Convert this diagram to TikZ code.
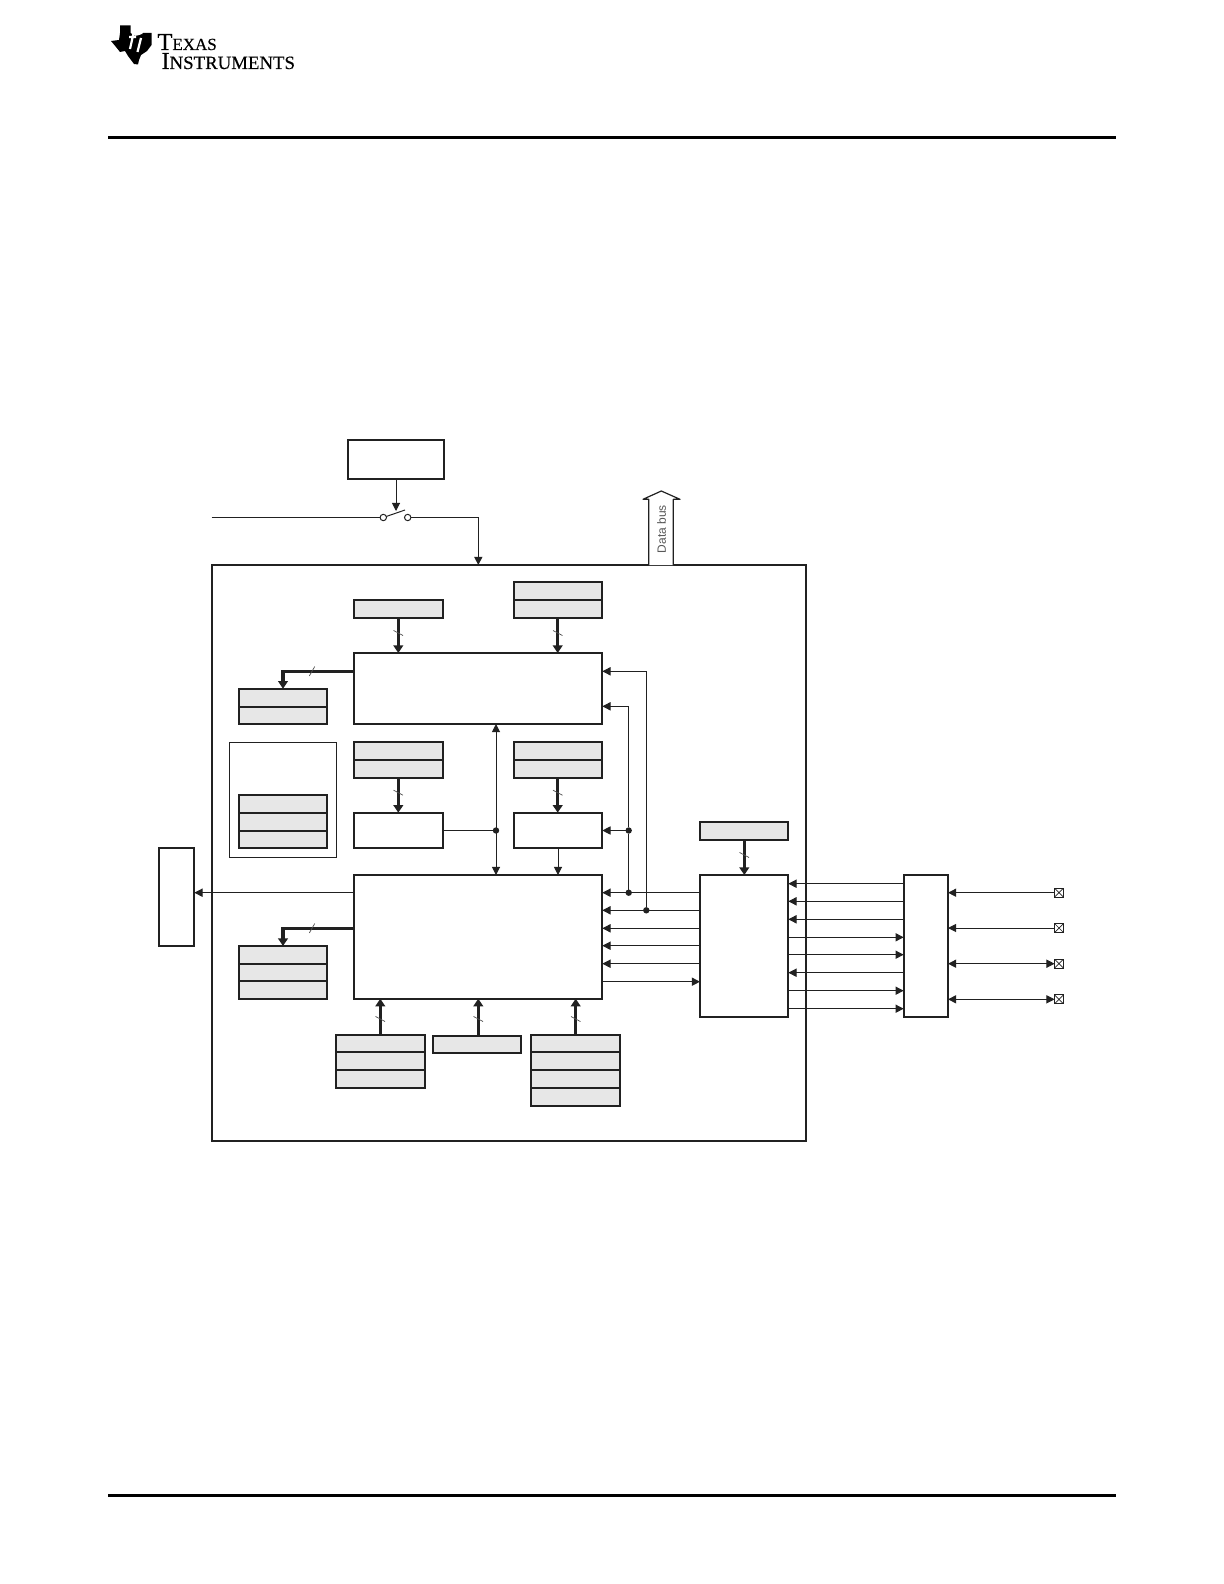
\documentclass[tikz,border=0pt]{standalone}
\usepackage{fontspec}
\setmainfont{Liberation Serif}
\newfontfamily\arialfont{Liberation Sans}
\newfontfamily\logofont[FakeBold=0.35]{Liberation Serif}
\usetikzlibrary{arrows.meta}
\definecolor{ink}{gray}{0.13}
\definecolor{shade}{gray}{0.905}
\newcommand{\bx}[6]{\node[#6, minimum width={(#4-(#2))*0.5pt}, minimum height={(#5-(#3))*0.5pt}] (#1) at ({(#2+#4)/2},{(#3+#5)/2}) {};}
\newcommand{\rowline}[2]{\draw[boxline] (#1.west |- 0,#2) -- (#1.east |- 0,#2);}
\tikzset{
  x=0.5pt,y=-0.5pt,
  every node/.style={inner sep=0pt,outer sep=0pt},
  boxline/.style={draw=ink,line width=0.85pt},
  plainbox/.style={boxline,fill=white},
  greybox/.style={boxline,fill=shade},
  framebox/.style={draw=ink,line width=0.45pt,fill=none},
  thin link/.style={draw=ink,line width=0.5pt},
  arr/.style={thin link,-{Triangle[length=4.1pt,width=4.1pt]}},
  darr/.style={thin link,{Triangle[length=4.1pt,width=4.1pt]}-{Triangle[length=4.1pt,width=4.1pt]}},
  bus/.style={draw=ink,line width=1.6pt,-{Triangle[length=3.8pt,width=4.8pt]}},
  tick/.style={draw=ink!80,line width=0.35pt},
  junction/.style={circle,fill=ink,minimum size=3.2pt},
  swcontact/.style={circle,draw=ink,line width=0.5pt,fill=white,minimum size=3.2pt},
  pin/.style={rectangle,draw=ink,line width=0.5pt,fill=white,minimum size=4.4pt},
  rule/.style={draw=black,line width=1.5pt},
}
\begin{document}
\begin{tikzpicture}
\useasboundingbox (0,0) rectangle (1224,1584);
% page rules
\coordinate (ruleAl) at (108,137.3); \coordinate (ruleAr) at (1116,137.3);
\coordinate (ruleBl) at (108,1495.3); \coordinate (ruleBr) at (1116,1495.3);
\draw[rule] (ruleAl) -- (ruleAr);
\draw[rule] (ruleBl) -- (ruleBr);
% logo
\fill[black] (120,25.5) -- (130.5,25.5) -- (130.5,33) -- (135,36) -- (140,35) -- (143,33) -- (151.5,33) -- (151.5,45) -- (147,51) -- (141,55) -- (139,60) -- (138,64.5) -- (134,64) -- (128,56) -- (125,51) -- (120,52) -- (116,47) -- (111,41) -- (119,40) -- (120,33) -- cycle;
\draw[white,line width=1.1pt] (134,31) -- (130,49) (129,37) -- (136,37) (141,38) -- (137.5,52);
\draw[white,line width=1.3pt] (141.5,31) -- (141,34);
\node[anchor=base west,text=black,align=left,font=\logofont\fontsize{12.2}{9.5}\selectfont] (logo) at (157.5,69) {T{\fontsize{8.5}{9.5}\selectfont EXAS}\\[0pt]\hspace*{2pt}I{\fontsize{9.4}{9.5}\selectfont NSTRUMENTS}};
% main frame
\bx{main}{211.7}{565}{806}{1141}{plainbox}
% top box and switch
\bx{ctrl}{347.7}{440}{444.3}{479}{plainbox}
\node[swcontact] (swa) at (383.3,517.5) {};
\node[swcontact] (swb) at (407.7,517.5) {};
\coordinate (blade) at (405,510);
\coordinate (bladeHit) at (ctrl.south |- 0,511);
\coordinate (inL) at (211.7,517.5);
\draw[thin link] (inL) -- (swa);
\draw[thin link] (swa) -- (blade);
\draw[arr] (ctrl.south) -- (bladeHit);
\coordinate (inT) at (478.3,565);
\draw[arr] (swb) -| (inT);
% data bus
\coordinate (dbl) at (648.7,565); \coordinate (dbr) at (673.3,565);
\draw[draw=ink,line width=0.6pt,fill=white,line join=round] (dbl) -- (648.7,499.3) -- (643,499.3) -- (661.3,491) -- (680,499.3) -- (673.3,499.3) -- (dbr);
\node[rotate=90,text=ink!75] (dbtext) at (661.7,529.3) {\arialfont\fontsize{6}{7}\selectfont Data bus};
% upper block
\bx{upper}{353.7}{653}{602.3}{724}{plainbox}
\bx{r1}{353.7}{600}{443}{618}{greybox}
\bx{r2}{513.7}{582}{602.3}{618}{greybox}
\rowline{r2}{600}
\bx{l1}{238.7}{688.7}{327.3}{724}{greybox}
\rowline{l1}{706.7}
% outlined group
\bx{group}{229.3}{742.3}{336.7}{857.3}{framebox}
\bx{g3}{238.7}{794.7}{327.3}{848}{greybox}
\rowline{g3}{812.7}
\rowline{g3}{830.7}
% middle row
\bx{b1}{353.7}{741.7}{443.3}{778}{greybox}
\rowline{b1}{760}
\bx{b2}{513.7}{741.7}{602.3}{778}{greybox}
\rowline{b2}{760}
\bx{c1}{353.7}{812.7}{443.3}{848}{plainbox}
\bx{c2}{513.7}{812.7}{602.3}{848}{plainbox}
% lower block
\bx{lower}{353.7}{875}{602.3}{998.7}{plainbox}
\bx{ext}{158.7}{847.7}{194.3}{946}{plainbox}
\bx{l2}{238.7}{946}{327.3}{999}{greybox}
\rowline{l2}{964}
\rowline{l2}{980.7}
\bx{f1}{335.7}{1034.7}{425}{1088}{greybox}
\rowline{f1}{1052}
\rowline{f1}{1069.7}
\bx{f2}{433}{1035.7}{521}{1053}{greybox}
\bx{f3}{530.7}{1034.7}{620}{1106}{greybox}
\rowline{f3}{1052}
\rowline{f3}{1069.7}
\rowline{f3}{1087.7}
% right blocks
\bx{g1}{700}{822}{788.3}{840}{greybox}
\bx{hub}{700}{875}{788.3}{1017}{plainbox}
\bx{io}{903.7}{875}{948}{1017}{plainbox}
% buses
\draw[bus] (398.3,618) -- (398.3,653);
\draw[bus] (557.7,618) -- (557.7,653);
\draw[bus] (398.3,778) -- (398.3,812.7);
\draw[bus] (557.7,778) -- (557.7,812.7);
\draw[bus] (744.3,840) -- (744.3,875);
\draw[bus] (380.3,1034.7) -- (380.3,998.7);
\draw[bus] (478.3,1035.7) -- (478.3,998.7);
\draw[bus] (575.7,1034.7) -- (575.7,998.7);
\draw[bus] (upper.west |- 0,671.3) -| (l1.north);
\draw[bus] (lower.west |- 0,928.3) -| (l2.north);
% bus ticks
\foreach \tx/\ty in {398.3/633,557.7/633,398.3/792.7,557.7/792.7,744.3/855,380.3/1019,478.3/1019,575.7/1019}{
  \draw[tick] (\tx-4.7,\ty-2.5) -- (\tx+4.7,\ty+2.5);
}
\foreach \ty in {671.3,928.3}{
  \draw[tick] (309.3,\ty+4.7) -- (314.7,\ty-4.7);
}
% thin links
\node[junction] (jmid) at (496,830.5) {};
\draw[thin link] (c1.east |- jmid) -- (jmid);
\draw[darr] (upper.south -| jmid) -- (lower.north -| jmid);
\draw[arr] (c2.south) -- (lower.north -| c2.south);
\draw[arr] (lower.west |- 0,892.7) -- (ext.east |- 0,892.7);
\node[junction] (ja) at (628.7,830.5) {};
\node[junction] (jb) at (628.7,892.7) {};
\node[junction] (jc) at (646.3,910.3) {};
\draw[thin link] (jb) -- (ja);
\draw[arr] (ja) -- (c2.east |- ja);
\draw[arr] (ja) |- (upper.east |- 0,706.3);
\draw[arr] (jc) |- (upper.east |- 0,671.3);
% lower <-> hub
\draw[arr] (hub.west |- 0,892.7) -- (lower.east |- 0,892.7);
\draw[arr] (hub.west |- 0,910.3) -- (lower.east |- 0,910.3);
\draw[arr] (hub.west |- 0,928.3) -- (lower.east |- 0,928.3);
\draw[arr] (hub.west |- 0,945.7) -- (lower.east |- 0,945.7);
\draw[arr] (hub.west |- 0,963.7) -- (lower.east |- 0,963.7);
\draw[arr] (lower.east |- 0,981.7) -- (hub.west |- 0,981.7);
% hub <-> io
\draw[arr] (io.west |- 0,883.7) -- (hub.east |- 0,883.7);
\draw[arr] (io.west |- 0,901.3) -- (hub.east |- 0,901.3);
\draw[arr] (io.west |- 0,919.3) -- (hub.east |- 0,919.3);
\draw[arr] (hub.east |- 0,937.3) -- (io.west |- 0,937.3);
\draw[arr] (hub.east |- 0,954.7) -- (io.west |- 0,954.7);
\draw[arr] (io.west |- 0,972.7) -- (hub.east |- 0,972.7);
\draw[arr] (hub.east |- 0,990.7) -- (io.west |- 0,990.7);
\draw[arr] (hub.east |- 0,1008.7) -- (io.west |- 0,1008.7);
% pins
\foreach \pn/\py in {p1/892.7,p2/928,p3/963.7,p4/999.3}{
  \node[pin] (\pn) at (1059,\py) {};
  \draw[ink,line width=0.35pt] (\pn.south west) -- (\pn.north east) (\pn.north west) -- (\pn.south east);
}
\draw[arr] (p1) -- (io.east |- p1);
\draw[arr] (p2) -- (io.east |- p2);
\draw[darr] (p3) -- (io.east |- p3);
\draw[darr] (p4) -- (io.east |- p4);
\end{tikzpicture}
\end{document}
